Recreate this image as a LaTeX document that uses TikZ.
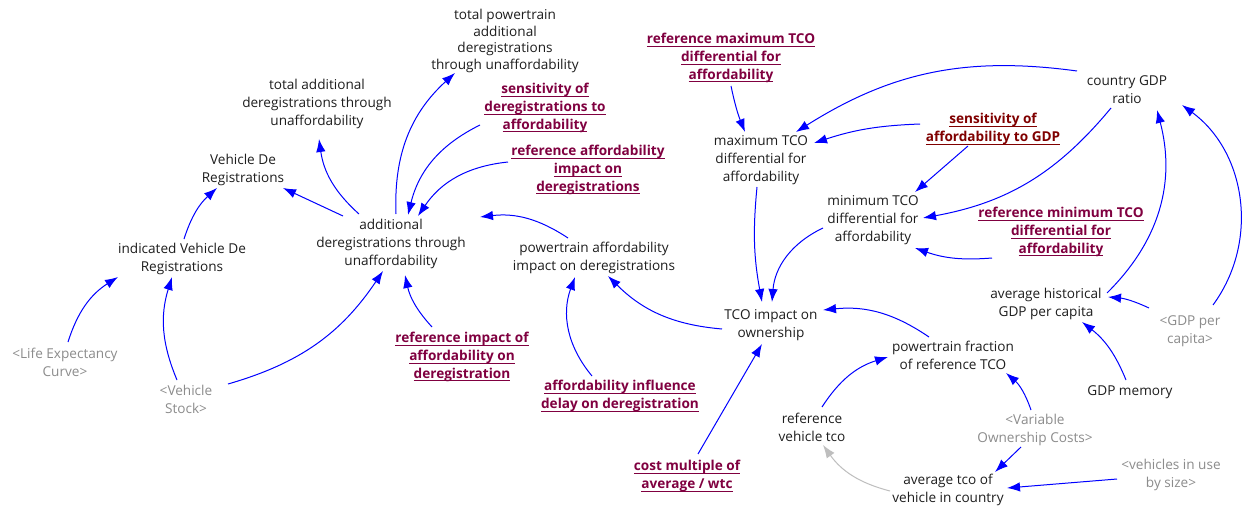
\documentclass[tikz,border=0pt]{standalone}
\usepackage{fontspec}
\setmainfont{Open Sans}
\usetikzlibrary{arrows.meta}
\definecolor{linkblue}{RGB}{0,0,255}
\definecolor{constred}{RGB}{128,0,64}
\definecolor{gdpred}{RGB}{128,0,0}
\definecolor{shadowgray}{RGB}{140,140,140}
\definecolor{inkgray}{RGB}{30,30,30}
\definecolor{faintlink}{RGB}{190,190,190}
% underlined line of text, rule at a fixed depth
\newcommand\ulin[1]{\setbox0=\hbox{#1}\rlap{\rule[-3pt]{\wd0}{0.9pt}}\box0}
\tikzset{
  var/.style={align=center, inner sep=0pt, text=inkgray,
    font=\fontsize{13.6}{17.8}\selectfont},
  cst/.style={var, text=constred, font=\fontsize{13.6}{17.8}\selectfont\bfseries},
  shd/.style={var, text=shadowgray},
  lnk/.style={draw=linkblue, line width=1pt, -{Latex[length=13pt,width=9.5pt]}},
  glnk/.style={lnk, draw=faintlink},
}
\begin{document}
\begin{tikzpicture}[x=1pt, y=-1pt]
\useasboundingbox[fill=white] (0,0) rectangle (1249,508);

% variables
\node[var, font=\fontsize{13.6}{16.6}\selectfont] (tpt) at (505,41) {total powertrain\\additional\\deregistrations\\through unaffordability};
\node[var] (tad) at (317,104) {total additional\\deregistrations through\\unaffordability};
\node[var] (vdr) at (243,170) {Vehicle De\\Registrations};
\node[var] (ivdr) at (182,259) {indicated Vehicle De\\Registrations};
\node[var] (add) at (391,244) {additional\\deregistrations through\\unaffordability};
\node[cst] (sdr) at (545,108) {\ulin{sensitivity of}\\\ulin{deregistrations to}\\\ulin{affordability}};
\node[cst] (rai) at (588,170) {\ulin{reference affordability}\\\ulin{impact on}\\\ulin{deregistrations}};
\node[var] (pai) at (594,258) {powertrain affordability\\impact on deregistrations};
\node[cst] (rio) at (462,357) {\ulin{reference impact of}\\\ulin{affordability on}\\\ulin{deregistration}};
\node[cst] (aid) at (620,396) {\ulin{affordability influence}\\\ulin{delay on deregistration}};
\node[shd] (lec) at (65,362) {<Life Expectancy\\Curve>};
\node[shd] (vst) at (186,399) {<Vehicle\\Stock>};
\node[cst] (cmw) at (687,476) {\ulin{cost multiple of}\\\ulin{average / wtc}};
\node[var] (tco) at (771,325) {TCO impact on\\ownership};
\node[cst] (rmax) at (731,58) {\ulin{reference maximum TCO}\\\ulin{differential for}\\\ulin{affordability}};
\node[var] (maxt) at (761,160) {maximum TCO\\differential for\\affordability};
\node[cst, text=gdpred] (sgdp) at (993,129) {\ulin{sensitivity of}\\\ulin{affordability to GDP}};
\node[var] (cgdp) at (1127,90) {country GDP\\ratio};
\node[var] (mint) at (873,220) {minimum TCO\\differential for\\affordability};
\node[cst] (rmin) at (1061,232) {\ulin{reference minimum TCO}\\\ulin{differential for}\\\ulin{affordability}};
\node[var] (ahg) at (1046,304) {average historical\\GDP per capita};
\node[shd] (gpc) at (1190,331) {<GDP per\\capita>};
\node[var] (gmem) at (1130,392) {GDP memory};
\node[var] (ptf) at (953,355) {powertrain fraction\\of reference TCO};
\node[var] (rvt) at (812,427) {reference\\vehicle tco};
\node[shd] (voc) at (1035,430) {<Variable\\Ownership Costs>};
\node[var] (atc) at (948,490) {average tco of\\vehicle in country};
\node[shd] (viu) at (1171,475) {<vehicles in use\\by size>};

% links
\draw[lnk] ([shift={(5,-30)}]add.center) to[bend left=25] ([shift={(-50,32)}]tpt.center);
\draw[lnk] ([shift={(-32,-30)}]add.center) to[bend left=20] ([shift={(2,35)}]tad.center);
\draw[lnk] ([shift={(-48,-28)}]add.center) -- ([shift={(40,18)}]vdr.center);
\draw[lnk] ([shift={(2,-20)}]ivdr.center) to[bend left=15] ([shift={(-26,18)}]vdr.center);
\draw[lnk] ([shift={(-65,17)}]sdr.center) to[bend right=25] ([shift={(17,-29)}]add.center);
\draw[lnk] ([shift={(-80,-8)}]rai.center) to[bend right=25] ([shift={(27,-28)}]add.center);
\draw[lnk] ([shift={(-26,-20)}]pai.center) to[bend right=20] ([shift={(89,-27)}]add.center);
\draw[lnk] ([shift={(3,-20)}]lec.center) to[bend left=20] ([shift={(-64,18)}]ivdr.center);
\draw[lnk] ([shift={(-9,-19)}]vst.center) to[bend left=20] ([shift={(-10,18)}]ivdr.center);
\draw[lnk] ([shift={(42,-15)}]vst.center) to[bend right=20] ([shift={(-8,27)}]add.center);
\draw[lnk] ([shift={(-30,-30)}]rio.center) to[bend left=15] ([shift={(14,31)}]add.center);
\draw[lnk] ([shift={(-28,-20)}]aid.center) to[bend left=30] ([shift={(-19,19)}]pai.center);
\draw[lnk] ([shift={(-49,4)}]tco.center) to[bend left=20] ([shift={(14,18)}]pai.center);
\draw[lnk] ([shift={(11,-22)}]cmw.center) -- ([shift={(-9,19)}]tco.center);
\draw[lnk] ([shift={(-4,27)}]maxt.center) to[bend right=8] ([shift={(-9,-23)}]tco.center);
\draw[lnk] ([shift={(-50,8)}]mint.center) to[bend right=30] ([shift={(1,-23)}]tco.center);
\draw[lnk] ([shift={(0,28)}]rmax.center) to[bend right=5] ([shift={(-16,-28)}]maxt.center);
\draw[lnk] ([shift={(-50,-19)}]cgdp.center) to[bend right=20] ([shift={(35,-28)}]maxt.center);
\draw[lnk] ([shift={(-73,-5)}]sgdp.center) to[bend right=8] ([shift={(53,-17)}]maxt.center);
\draw[lnk] ([shift={(-25,17)}]sgdp.center) -- ([shift={(42,-28)}]mint.center);
\draw[lnk] ([shift={(-16,18)}]cgdp.center) to[bend left=20] ([shift={(50,-2)}]mint.center);
\draw[lnk] ([shift={(-69,26)}]rmin.center) to[bend left=12] ([shift={(42,28)}]mint.center);
\draw[lnk] ([shift={(61,-11)}]ahg.center) to[bend right=30] ([shift={(30,20)}]cgdp.center);
\draw[lnk] ([shift={(23,-26)}]gpc.center) to[bend right=45] ([shift={(55,15)}]cgdp.center);
\draw[lnk] ([shift={(-41,-23)}]gpc.center) to[bend right=10] ([shift={(62,-7)}]ahg.center);
\draw[lnk] ([shift={(-4,-12)}]gmem.center) to[bend right=15] ([shift={(36,18)}]ahg.center);
\draw[lnk] ([shift={(-24,-18)}]ptf.center) to[bend right=20] ([shift={(52,-15)}]tco.center);
\draw[lnk] ([shift={(10,-20)}]rvt.center) to[bend left=20] ([shift={(-65,2)}]ptf.center);
\draw[lnk] ([shift={(-4,-20)}]voc.center) to[bend right=15] ([shift={(53,18)}]ptf.center);
\draw[lnk] ([shift={(-14,17)}]voc.center) -- ([shift={(47,-18)}]atc.center);
\draw[lnk] ([shift={(-54,4)}]viu.center) -- ([shift={(59,-2)}]atc.center);
\draw[glnk] ([shift={(-58,1)}]atc.center) to[bend left=20] ([shift={(11,18)}]rvt.center);
\end{tikzpicture}
\end{document}
